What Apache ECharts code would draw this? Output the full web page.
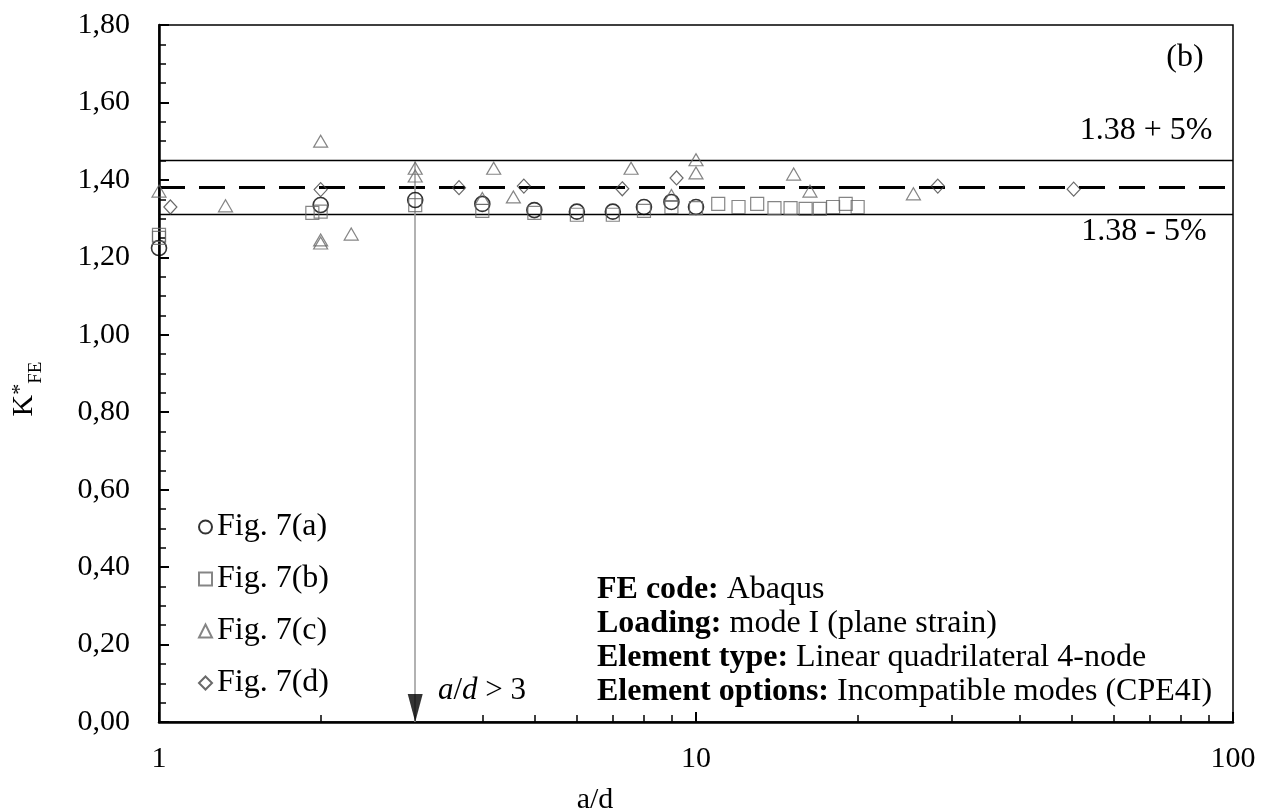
<!DOCTYPE html>
<html>
<head>
<meta charset="utf-8">
<script src="https://cdn.jsdelivr.net/npm/echarts@6/dist/echarts.min.js"></script>
<style>
html, body { margin: 0; padding: 0; background: #fff; }
#chart { width: 1271px; height: 812px; }
</style>
</head>
<body>
<div id="chart"></div>
<script>
// K*FE values, [a/d, K*FE]
var figA = [[1, 1.224], [2, 1.335], [3, 1.348], [4, 1.338], [5, 1.322], [6, 1.318], [7, 1.318], [8, 1.33], [9, 1.343], [10, 1.33]];
var figB = [[1, 1.25], [1, 1.258], [1.93, 1.315], [2, 1.318], [3, 1.335], [4, 1.32], [5, 1.315], [6, 1.31], [7, 1.31], [8, 1.32], [9, 1.33], [10, 1.327],
	[11, 1.338], [12, 1.33], [13, 1.338], [14, 1.327], [15, 1.327], [16, 1.325], [17, 1.325], [18, 1.33], [19, 1.338], [20, 1.33]];
var figC = [[1, 1.371], [1.33, 1.333], [2, 1.5], [2, 1.245], [2, 1.237], [2.28, 1.26], [3, 1.43], [3, 1.41], [4, 1.352], [4.2, 1.43], [4.57, 1.356],
	[7.57, 1.43], [9, 1.36], [10, 1.452], [10, 1.418], [15.2, 1.415], [16.3, 1.371], [25.4, 1.364]];
var figD = [[1.05, 1.33], [2, 1.375], [3.62, 1.38], [4.78, 1.384], [7.29, 1.377], [9.2, 1.405], [28.2, 1.384], [50.5, 1.376]];

var seriesNames = ['Fig. 7(a)', 'Fig. 7(b)', 'Fig. 7(c)', 'Fig. 7(d)'];

// reference value and the +/- 5% band
var refK = 1.38;
var band = 0.05;
var upperK = refK * (1 + band);
var lowerK = refK * (1 - band);

// a/d > 3 limit
var limitX = 3;

// tick values
var xMajorTicks = [1, 10, 100];
var xMinorTicks = [2, 3, 4, 5, 6, 7, 8, 9, 20, 30, 40, 50, 60, 70, 80, 90];

var serif = '"Liberation Serif", "Times New Roman", serif';
var fs = 30;

var chart = echarts.init(document.getElementById('chart'));

function scatterSeries(name, data, symbol, size, border, bw) {
	return {
		name: name,
		type: 'scatter',
		data: data,
		symbol: symbol,
		symbolSize: size,
		itemStyle: { color: 'rgba(0,0,0,0)', borderColor: border, borderWidth: bw },
		z: 5
	};
}

function infoLine(label, value, y) {
	return {
		type: 'text', x: 597, y: y,
		style: {
			text: '{b|' + label + '}' + value,
			font: '32px ' + serif, fill: '#000', verticalAlign: 'middle',
			rich: { b: { fontWeight: 'bold', fontFamily: serif, fontSize: 32 } }
		}
	};
}

function label(text, x, y, size) {
	return { type: 'text', x: x, y: y, style: { text: text, font: size + 'px ' + serif, fill: '#000', align: 'center', verticalAlign: 'middle' } };
}

var sA = scatterSeries(seriesNames[0], figA, 'circle', 15, '#000', 1.6);
// lines go on the first series
sA.markLine = {
	silent: true,
	symbol: 'none',
	animation: false,
	label: { show: false },
	data: [
		{ yAxis: upperK, lineStyle: { color: '#000', width: 1.3, type: 'solid' } },
		{ yAxis: refK, lineStyle: { color: '#000', width: 3, type: [26, 14] } },
		{ yAxis: lowerK, lineStyle: { color: '#000', width: 1.3, type: 'solid' } },
		[{ coord: [limitX, upperK], lineStyle: { color: '#999', width: 1.5, type: 'solid' } }, { coord: [limitX, 0] }]
	]
};

var option = {
	animation: false,
	backgroundColor: '#fff',
	grid: {
		left: 159, top: 25, right: 38, bottom: 90,
		show: true, borderColor: '#000', borderWidth: 1.5
	},
	legend: {
		data: seriesNames,
		orient: 'vertical',
		left: 193,
		top: 506,
		itemWidth: 13,
		itemHeight: 13,
		itemGap: 20,
		textStyle: { fontFamily: serif, fontSize: 32, color: '#000' },
		selectedMode: false
	},
	xAxis: [
		{
			type: 'log', logBase: 10, min: 1, max: 100,
			axisLine: { lineStyle: { color: '#000', width: 2.5 } },
			axisTick: { inside: true, length: 10, lineStyle: { color: '#000', width: 2 }, customValues: xMajorTicks },
			axisLabel: { customValues: xMajorTicks, margin: 22, fontFamily: serif, fontSize: fs, color: '#000' },
			splitLine: { show: false },
			minorTick: { show: false }
		},
		{
			type: 'log', logBase: 10, min: 1, max: 100, position: 'bottom',
			axisLine: { show: false },
			axisTick: { inside: true, length: 7, lineStyle: { color: '#000', width: 1.5 }, customValues: xMinorTicks },
			axisLabel: { show: false },
			splitLine: { show: false }
		}
	],
	yAxis: {
		type: 'value', min: 0, max: 1.8, interval: 0.2,
		axisLine: { show: true, lineStyle: { color: '#000', width: 2.5 } },
		axisTick: { show: true, inside: true, length: 10, lineStyle: { color: '#000', width: 2 } },
		minorTick: { show: true, splitNumber: 4, length: 7, lineStyle: { color: '#000', width: 1.5 } },
		axisLabel: {
			margin: 29, fontFamily: serif, fontSize: fs, color: '#000',
			formatter: function (v) { return v.toFixed(2).replace('.', ','); }
		},
		splitLine: { show: false }
	},
	series: [
		sA,
		scatterSeries(seriesNames[1], figB, 'rect', 13, '#666', 1.2),
		scatterSeries(seriesNames[2], figC, 'triangle', [14, 12], '#666', 1.2),
		scatterSeries(seriesNames[3], figD, 'diamond', [13, 14], '#444', 1.2),
		{
			// arrow head at the bottom of the a/d = 3 line
			name: 'arrow',
			type: 'scatter',
			data: [[limitX, 0]],
			symbol: 'path://M0,0 L10,0 L5,20 Z',
			symbolSize: [15, 28],
			symbolOffset: [0, -14],
			itemStyle: { color: '#000' },
			silent: true,
			z: 6
		}
	],
	graphic: [
		label('(b)', 1185, 58, 32),
		label('1.38 + 5%', 1146, 131, 32),
		label('1.38 - 5%', 1144, 232, 32),
		{
			type: 'text', x: 438, y: 691,
			style: {
				text: '{i|a}/{i|d} > 3', font: '31px ' + serif, fill: '#000', verticalAlign: 'middle',
				rich: { i: { fontStyle: 'italic', fontFamily: serif, fontSize: 31 } }
			}
		},
		infoLine('FE code:', ' Abaqus', 590),
		infoLine('Loading:', ' mode I (plane strain)', 624),
		infoLine('Element type:', ' Linear quadrilateral 4-node', 658),
		infoLine('Element options:', ' Incompatible modes (CPE4I)', 692),
		label('a/d', 595, 800, fs),
		{
			type: 'text', x: 24, y: 389, rotation: Math.PI / 2,
			style: {
				text: '{k|K}{s|*}{f|FE}', fill: '#000', align: 'center', verticalAlign: 'middle',
				rich: {
					k: { fontFamily: serif, fontSize: fs, verticalAlign: 'bottom' },
					s: { fontFamily: serif, fontSize: 22, verticalAlign: 'top' },
					f: { fontFamily: serif, fontSize: 19, verticalAlign: 'bottom', padding: [0, 0, -7, 0] }
				}
			}
		}
	]
};

chart.setOption(option);
</script>
</body>
</html>
